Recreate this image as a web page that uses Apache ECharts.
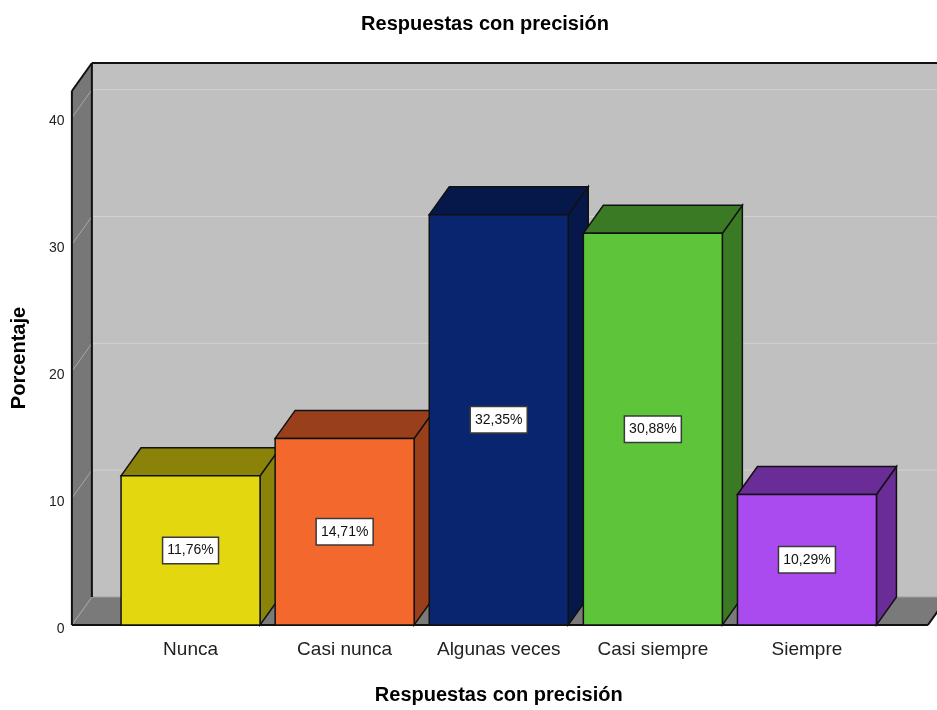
<!DOCTYPE html>
<html>
<head>
<meta charset="utf-8">
<title>Respuestas con precisión</title>
<script src="https://cdn.jsdelivr.net/npm/echarts@6/dist/echarts.min.js"></script>
<style>
  html, body { margin: 0; padding: 0; background: #ffffff; }
  #chart { width: 937px; height: 710px; }
</style>
</head>
<body>
<div id="chart"></div>
<script>
// Response categories and their share of answers (%)
const categories = ['Nunca', 'Casi nunca', 'Algunas veces', 'Casi siempre', 'Siempre'];
const percentages = [11.76, 14.71, 32.35, 30.88, 10.29];

// Face colours per bar: front face and darker top/side faces
const frontColors = ['#e3d80f', '#f2682d', '#0a256f', '#5ec43a', '#a94bef'];
const shadeColors = ['#8b8309', '#9a3f1b', '#061849', '#3b7a25', '#6a2d97'];

// Value axis ticks
const yTicks = [0, 10, 20, 30, 40];
const yStep = 10;
const yMax = 42.1;

// 3D depth offset of the box (pixels)
const DX = 20;
const DY = -28;
const FONT = '"Liberation Sans", Arial, sans-serif';

function fmt(v) {
  return v.toFixed(2).replace('.', ',') + '%';
}

// Back wall, left wall, floor and their grid lines
function renderWalls(params, api) {
  const cs = params.coordSys;
  const band = api.size([1, 0])[0];
  const xL = cs.x - band * 0.27;
  const xR = cs.x + cs.width + band * 0.285;
  const y0 = api.coord([0, 0])[1];
  const yT = api.coord([0, yMax])[1];
  const kids = [];
  kids.push({ type: 'polygon', shape: { points: [[xL + DX, yT + DY], [xR + DX, yT + DY], [xR + DX, y0 + DY], [xL + DX, y0 + DY]] }, style: { fill: '#c0c0c0' } });
  kids.push({ type: 'polygon', shape: { points: [[xL, yT], [xL + DX, yT + DY], [xL + DX, y0 + DY], [xL, y0]] }, style: { fill: '#777777' } });
  kids.push({ type: 'polygon', shape: { points: [[xL, y0], [xL + DX, y0 + DY], [xR + DX, y0 + DY], [xR, y0]] }, style: { fill: '#7a7a7a' } });
  yTicks.forEach(function (v) {
    const y = api.coord([0, v])[1];
    kids.push({ type: 'line', shape: { x1: xL + DX, y1: y + DY, x2: xR + DX, y2: y + DY }, style: { stroke: v === 0 ? '#a0a0a0' : '#d2d2d2', lineWidth: 1 } });
    kids.push({ type: 'line', shape: { x1: xL, y1: y, x2: xL + DX, y2: y + DY }, style: { stroke: '#a8a8a8', lineWidth: 1 } });
  });
  const edge = { stroke: '#111111', lineWidth: 2 };
  kids.push({ type: 'line', shape: { x1: xL, y1: yT, x2: xL, y2: y0 }, style: edge });
  kids.push({ type: 'line', shape: { x1: xL, y1: yT, x2: xL + DX, y2: yT + DY }, style: edge });
  kids.push({ type: 'line', shape: { x1: xL + DX, y1: yT + DY, x2: xL + DX, y2: y0 + DY }, style: edge });
  kids.push({ type: 'line', shape: { x1: xL + DX, y1: yT + DY, x2: xR + DX, y2: yT + DY }, style: edge });
  kids.push({ type: 'line', shape: { x1: xL, y1: y0, x2: xR, y2: y0 }, style: edge });
  kids.push({ type: 'line', shape: { x1: xR, y1: y0, x2: xR + DX, y2: y0 + DY }, style: edge });
  return { type: 'group', children: kids };
}

// One box per category: side, top, front and a value label
function renderBar(params, api) {
  const i = api.value(0);
  const v = api.value(1);
  const p = api.coord([i, v]);
  const y0 = api.coord([i, 0])[1];
  const cx = p[0], yv = p[1];
  const w = api.size([1, 0])[0] * 0.902;
  const x1 = cx - w / 2, x2 = cx + w / 2;
  const shade = shadeColors[i], front = frontColors[i];
  const line = { stroke: '#111111', lineWidth: 1.5 };
  return {
    type: 'group',
    children: [
      { type: 'polygon', shape: { points: [[x2, yv], [x2 + DX, yv + DY], [x2 + DX, y0 + DY], [x2, y0]] }, style: Object.assign({ fill: shade }, line) },
      { type: 'polygon', shape: { points: [[x1, yv], [x1 + DX, yv + DY], [x2 + DX, yv + DY], [x2, yv]] }, style: Object.assign({ fill: shade }, line) },
      { type: 'rect', shape: { x: x1, y: yv, width: w, height: y0 - yv }, style: Object.assign({ fill: front }, line) },
      {
        type: 'text',
        x: cx,
        y: (yv + y0) / 2,
        style: {
          text: fmt(v),
          font: '14px ' + FONT,
          fill: '#111111',
          align: 'center',
          verticalAlign: 'middle',
          backgroundColor: '#ffffff',
          borderColor: '#3a3a3a',
          borderWidth: 1.5,
          padding: [6, 4, 5, 4]
        }
      }
    ]
  };
}

const chart = echarts.init(document.getElementById('chart'), null, { renderer: 'canvas' });
chart.setOption({
  animation: false,
  backgroundColor: '#ffffff',
  title: {
    text: 'Respuestas con precisión',
    left: 480,
    top: 9,
    textAlign: 'center',
    textStyle: { fontFamily: FONT, fontSize: 20, fontWeight: 'bold', color: '#000000' }
  },
  grid: { left: 113.5, right: 53, top: 91, bottom: 82 },
  xAxis: {
    type: 'category',
    data: categories,
    boundaryGap: true,
    axisLine: { show: false },
    axisTick: { show: false },
    axisLabel: { interval: 0, margin: 15, fontFamily: FONT, fontSize: 19, color: '#222222' },
    name: 'Respuestas con precisión',
    nameLocation: 'middle',
    nameGap: 60,
    nameTextStyle: { fontFamily: FONT, fontSize: 20, fontWeight: 'bold', color: '#000000' }
  },
  yAxis: {
    type: 'value',
    min: 0,
    max: yMax,
    interval: yStep,
    axisLine: { show: false },
    axisTick: { show: false },
    splitLine: { show: false },
    axisLabel: { margin: 49, showMaxLabel: false, fontFamily: FONT, fontSize: 14, color: '#222222', verticalAlign: 'top', lineHeight: 8 },
    name: 'Porcentaje',
    nameLocation: 'middle',
    nameRotate: 90,
    nameGap: 84,
    nameTextStyle: { fontFamily: FONT, fontSize: 20, fontWeight: 'bold', color: '#000000' }
  },
  series: [
    {
      type: 'custom',
      silent: true,
      z: 1,
      renderItem: renderWalls,
      data: [[0, 0]]
    },
    {
      type: 'custom',
      z: 2,
      renderItem: renderBar,
      encode: { x: 0, y: 1 },
      data: categories.map(function (c, i) { return [i, percentages[i]]; })
    }
  ]
});
</script>
</body>
</html>
